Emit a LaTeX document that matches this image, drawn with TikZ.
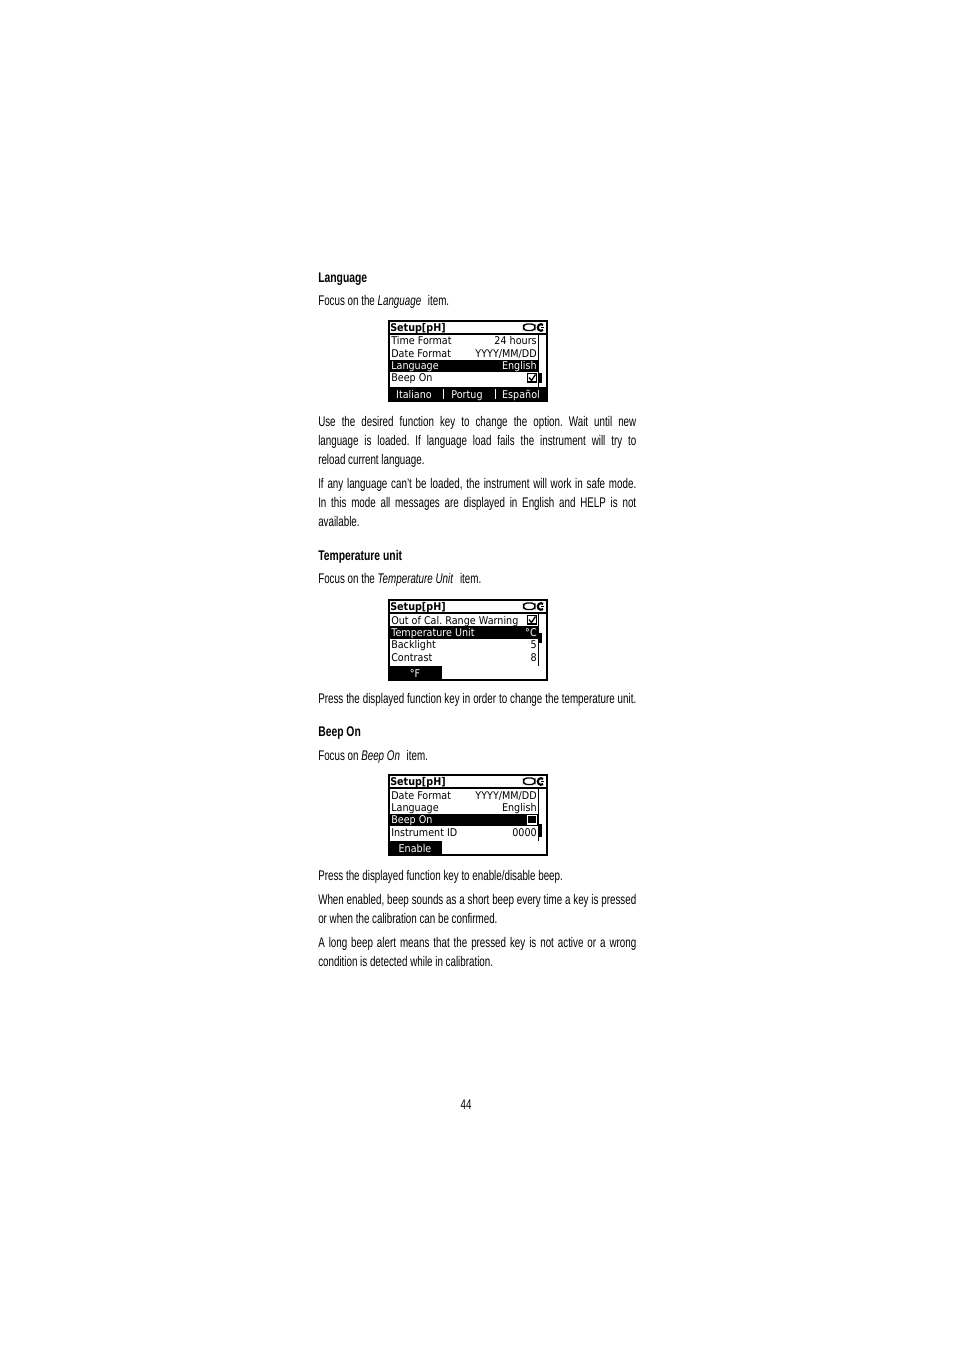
\documentclass[tikz,border=0pt]{standalone}
\usepackage{fontspec}
\setmainfont{Liberation Sans}[FakeStretch=0.7]
\newfontfamily\headfont{Liberation Sans Bold}[FakeStretch=0.74]
\newfontfamily\lcdfont{DejaVu Sans}[FakeStretch=0.9]
\usetikzlibrary{positioning}
\frenchspacing

\begin{document}
\begin{tikzpicture}[x=0.75pt, y=-0.75pt,
  bodyline/.style={anchor=base west, inner sep=0pt, font=\fontsize{10.5pt}{12pt}\selectfont},
  headline/.style={anchor=base west, inner sep=0pt, font=\headfont\fontsize{10.5pt}{12pt}\selectfont},
  lcdrow/.style={anchor=base west, inner sep=0pt, font=\lcdfont\fontsize{8pt}{9pt}\selectfont},
  lcdtitle/.style={lcdrow, font=\lcdfont\bfseries\fontsize{8pt}{9pt}\selectfont},
  lcdval/.style={lcdrow, anchor=base east},
  lcdkey/.style={lcdrow, anchor=base, text=white},
  lcdbox/.style={line width=1.5pt},
  plugicon/.style={line width=1pt, rounded corners=2.5pt}
]
  \useasboundingbox (0,0) rectangle (954,1351);
  \def\tw{238.5pt}  % text width

  % Headings
  \node[headline] (h-lang) at (318,283) {Language};
  \node[headline] (h-temp) at (318,560) {Temperature unit};
  \node[headline] (h-beep) at (318,736) {Beep On};

  % Justified lines
  \foreach \y/\txt in {426/{Use the desired function key to change the option. Wait until new},
                       445/{language is loaded. If language load fails the instrument will try to},
                       488/{If any language can’t be loaded, the instrument will work in safe mode.},
                       507/{In this mode all messages are displayed in English and HELP is not},
                       703/{Press the displayed function key in order to change the temperature unit.},
                       904/{When enabled, beep sounds as a short beep every time a key is pressed},
                       947/{A long beep alert means that the pressed key is not active or a wrong}} {
    \node[bodyline] (jl\y) at (318,\y) {\makebox[\tw][s]{\txt}};
  }

  % Short lines
  \foreach \y/\txt in {306/{Focus on the \textit{Language}\hspace{3pt} item.},
                       464/{reload current language.},
                       526/{available.},
                       583/{Focus on the \textit{Temperature Unit}\hspace{3pt} item.},
                       760/{Focus on \textit{Beep On}\hspace{3pt} item.},
                       880/{Press the displayed function key to enable/disable beep.},
                       923/{or when the calibration can be confirmed.},
                       966/{condition is detected while in calibration.}} {
    \node[bodyline] (pl\y) at (318,\y) {\txt};
  }

  \node[bodyline, anchor=base] (pagenum) at (466,1109) {44};

  % Screen 1: language
  \begin{scope}[shift={(0,320)}]
    \draw[lcdbox] (389,1) rectangle (547,81);
    \draw[line width=1.2pt] (389,14) -- (547,14);
    \node[lcdtitle] (lang-title) at (390,11.5) {Setup[pH]};
    \draw[plugicon] (523.5,4) rectangle (535,10.5);
    \draw[line width=1.6pt] (541,7.5) ++(50:3.3) arc[start angle=50, end angle=310, radius=3.3];
    \draw[line width=1pt] (540.5,7.5) -- (544,7.5);

    \node[lcdrow] (lang-r1) at (391,25) {Time Format};
    \node[lcdval] (lang-v1) at (537,25) {24 hours};
    \node[lcdrow] (lang-r2) at (391,37.3) {Date Format};
    \node[lcdval] (lang-v2) at (537,37.3) {YYYY/MM/DD};
    \fill (389,39.6) rectangle (537.5,52.1);
    \node[lcdrow, text=white] (lang-r3) at (391,49.6) {Language};
    \node[lcdval, text=white] (lang-v3) at (537,49.6) {English};
    \node[lcdrow] (lang-r4) at (391,62) {Beep On};
    \draw[line width=0.9pt] (527.5,53.5) rectangle (536.5,62);
    \draw[line width=1pt] (529,57.5) -- (531.5,60.5) -- (535.5,54.5);

    % scrollbar
    \draw[line width=0.75pt] (538.5,14) -- (538.5,67);
    \fill (538,53) rectangle (541.5,63);

    % function keys
    \fill (389,67) rectangle (547,81);
    \node[lcdkey] (lang-k1) at (414,78) {Italiano};
    \node[lcdkey] (lang-k2) at (467,78) {Portug};
    \node[lcdkey] (lang-k3) at (521,78) {Español};
    \draw[white, line width=0.75pt] (443,69) -- (443,79) (495,69) -- (495,79);
  \end{scope}

  % Screen 2: temperature unit
  \begin{scope}[shift={(0,599)}]
    \draw[lcdbox] (389,1) rectangle (547,81);
    \draw[line width=1.2pt] (389,14) -- (547,14);
    \node[lcdtitle] (temp-title) at (390,11.5) {Setup[pH]};
    \draw[plugicon] (523.5,4) rectangle (535,10.5);
    \draw[line width=1.6pt] (541,7.5) ++(50:3.3) arc[start angle=50, end angle=310, radius=3.3];
    \draw[line width=1pt] (540.5,7.5) -- (544,7.5);

    \node[lcdrow] (temp-r1) at (391,25) {Out of Cal. Range Warning};
    \draw[line width=0.9pt] (527.5,16.5) rectangle (536.5,25);
    \draw[line width=1pt] (529,20.5) -- (531.5,23.5) -- (535.5,17.5);
    \fill (389,27.3) rectangle (537.5,39.8);
    \node[lcdrow, text=white] (temp-r2) at (391,37.3) {Temperature Unit};
    \node[lcdval, text=white] (temp-v2) at (537,37.3) {°C};
    \node[lcdrow] (temp-r3) at (391,49.6) {Backlight};
    \node[lcdval] (temp-v3) at (537,49.6) {5};
    \node[lcdrow] (temp-r4) at (391,62) {Contrast};
    \node[lcdval] (temp-v4) at (537,62) {8};

    % scrollbar
    \draw[line width=0.75pt] (538.5,14) -- (538.5,67);
    \fill (538,34) rectangle (541.5,44);

    % function keys
    \fill (389,67) rectangle (442,81);
    \node[lcdkey] (temp-k1) at (415,78) {°F};
  \end{scope}

  % Screen 3: beep on
  \begin{scope}[shift={(0,774)}]
    \draw[lcdbox] (389,1) rectangle (547,81);
    \draw[line width=1.2pt] (389,14) -- (547,14);
    \node[lcdtitle] (beep-title) at (390,11.5) {Setup[pH]};
    \draw[plugicon] (523.5,4) rectangle (535,10.5);
    \draw[line width=1.6pt] (541,7.5) ++(50:3.3) arc[start angle=50, end angle=310, radius=3.3];
    \draw[line width=1pt] (540.5,7.5) -- (544,7.5);

    \node[lcdrow] (beep-r1) at (391,25) {Date Format};
    \node[lcdval] (beep-v1) at (537,25) {YYYY/MM/DD};
    \node[lcdrow] (beep-r2) at (391,37.3) {Language};
    \node[lcdval] (beep-v2) at (537,37.3) {English};
    \fill (389,39.6) rectangle (537.5,52.1);
    \node[lcdrow, text=white] (beep-r3) at (391,49.6) {Beep On};
    \draw[white, line width=0.9pt] (527.5,41.5) rectangle (536.5,50);
    \node[lcdrow] (beep-r4) at (391,62) {Instrument ID};
    \node[lcdval] (beep-v4) at (537,62) {0000};

    % scrollbar
    \draw[line width=0.75pt] (538.5,14) -- (538.5,67);
    \fill (538,50) rectangle (541.5,63);

    % function keys
    \fill (389,67) rectangle (442,81);
    \node[lcdkey] (beep-k1) at (415,78) {Enable};
  \end{scope}
\end{tikzpicture}
\end{document}
